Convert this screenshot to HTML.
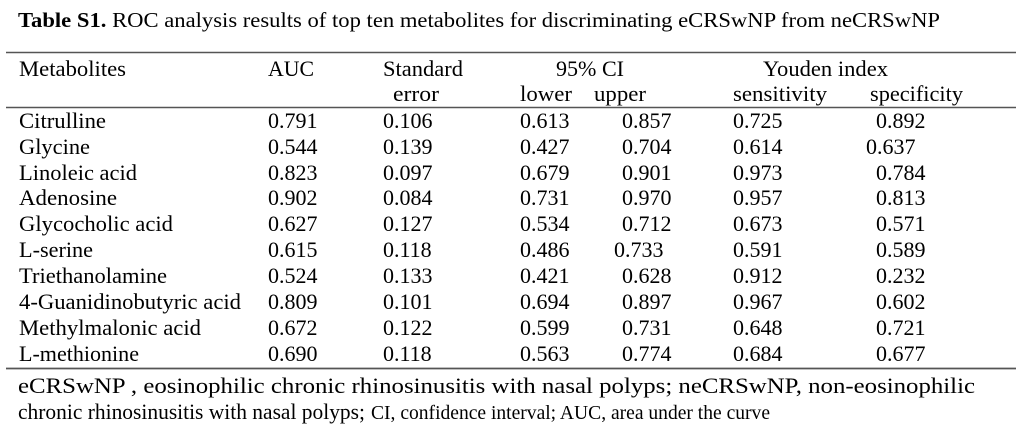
<!DOCTYPE html>
<html><head><meta charset="utf-8"><style>
html,body{margin:0;padding:0;background:#fff;}
svg{display:block;}
</style></head><body>
<svg width="1024" height="443" viewBox="0 0 1024 443" xmlns="http://www.w3.org/2000/svg" font-family="'Liberation Serif', 'Times New Roman', serif" fill="#000">
<text x="18" y="27" font-size="21" textLength="922" lengthAdjust="spacingAndGlyphs"><tspan font-weight="bold">Table S1.</tspan> ROC analysis results of top ten metabolites for discriminating eCRSwNP from neCRSwNP</text>
<line x1="6" y1="52.5" x2="1016" y2="52.5" stroke="#555" stroke-width="1.6"/>
<line x1="6" y1="107.5" x2="1016" y2="107.5" stroke="#555" stroke-width="1.6"/>
<line x1="6" y1="368.5" x2="1016" y2="368.5" stroke="#555" stroke-width="1.8"/>
<g font-size="22">
<text x="19" y="76" textLength="107" lengthAdjust="spacingAndGlyphs">Metabolites</text>
<text x="268" y="76" textLength="46" lengthAdjust="spacingAndGlyphs">AUC</text>
<text x="383" y="76" textLength="80" lengthAdjust="spacingAndGlyphs">Standard</text>
<text x="393" y="101" textLength="46" lengthAdjust="spacingAndGlyphs">error</text>
<text x="556" y="76" textLength="68" lengthAdjust="spacingAndGlyphs">95% CI</text>
<text x="520" y="101" textLength="52" lengthAdjust="spacingAndGlyphs">lower</text>
<text x="594" y="101" textLength="52" lengthAdjust="spacingAndGlyphs">upper</text>
<text x="763" y="76" textLength="125" lengthAdjust="spacingAndGlyphs">Youden index</text>
<text x="733" y="101" textLength="94" lengthAdjust="spacingAndGlyphs">sensitivity</text>
<text x="870" y="101" textLength="93" lengthAdjust="spacingAndGlyphs">specificity</text>
</g>
<g font-size="22">
<text x="19" y="128" textLength="87" lengthAdjust="spacingAndGlyphs">Citrulline</text>
<text x="19" y="154" textLength="71" lengthAdjust="spacingAndGlyphs">Glycine</text>
<text x="19" y="180" textLength="118" lengthAdjust="spacingAndGlyphs">Linoleic acid</text>
<text x="19" y="205" textLength="98" lengthAdjust="spacingAndGlyphs">Adenosine</text>
<text x="19" y="231" textLength="154" lengthAdjust="spacingAndGlyphs">Glycocholic acid</text>
<text x="19" y="257" textLength="74" lengthAdjust="spacingAndGlyphs">L-serine</text>
<text x="19" y="283" textLength="148" lengthAdjust="spacingAndGlyphs">Triethanolamine</text>
<text x="19" y="309" textLength="222" lengthAdjust="spacingAndGlyphs">4-Guanidinobutyric acid</text>
<text x="19" y="335" textLength="182" lengthAdjust="spacingAndGlyphs">Methylmalonic acid</text>
<text x="19" y="361" textLength="120" lengthAdjust="spacingAndGlyphs">L-methionine</text>
</g>
<g font-size="22">
<text x="268" y="128">0.791</text><text x="383" y="128">0.106</text><text x="520" y="128">0.613</text><text x="622" y="128">0.857</text><text x="733" y="128">0.725</text><text x="876" y="128">0.892</text>
<text x="268" y="154">0.544</text><text x="383" y="154">0.139</text><text x="520" y="154">0.427</text><text x="622" y="154">0.704</text><text x="733" y="154">0.614</text><text x="866" y="154">0.637</text>
<text x="268" y="180">0.823</text><text x="383" y="180">0.097</text><text x="520" y="180">0.679</text><text x="622" y="180">0.901</text><text x="733" y="180">0.973</text><text x="876" y="180">0.784</text>
<text x="268" y="205">0.902</text><text x="383" y="205">0.084</text><text x="520" y="205">0.731</text><text x="622" y="205">0.970</text><text x="733" y="205">0.957</text><text x="876" y="205">0.813</text>
<text x="268" y="231">0.627</text><text x="383" y="231">0.127</text><text x="520" y="231">0.534</text><text x="622" y="231">0.712</text><text x="733" y="231">0.673</text><text x="876" y="231">0.571</text>
<text x="268" y="257">0.615</text><text x="383" y="257">0.118</text><text x="520" y="257">0.486</text><text x="614" y="257">0.733</text><text x="733" y="257">0.591</text><text x="876" y="257">0.589</text>
<text x="268" y="283">0.524</text><text x="383" y="283">0.133</text><text x="520" y="283">0.421</text><text x="622" y="283">0.628</text><text x="733" y="283">0.912</text><text x="876" y="283">0.232</text>
<text x="268" y="309">0.809</text><text x="383" y="309">0.101</text><text x="520" y="309">0.694</text><text x="622" y="309">0.897</text><text x="733" y="309">0.967</text><text x="876" y="309">0.602</text>
<text x="268" y="335">0.672</text><text x="383" y="335">0.122</text><text x="520" y="335">0.599</text><text x="622" y="335">0.731</text><text x="733" y="335">0.648</text><text x="876" y="335">0.721</text>
<text x="268" y="361">0.690</text><text x="383" y="361">0.118</text><text x="520" y="361">0.563</text><text x="622" y="361">0.774</text><text x="733" y="361">0.684</text><text x="876" y="361">0.677</text>
</g>
<text x="18" y="393" font-size="22" textLength="957" lengthAdjust="spacingAndGlyphs">eCRSwNP , eosinophilic chronic rhinosinusitis with nasal polyps; neCRSwNP, non-eosinophilic</text>
<text x="18" y="419" font-size="22" textLength="347" lengthAdjust="spacingAndGlyphs">chronic rhinosinusitis with nasal polyps;</text>
<text x="371" y="419" font-size="20" textLength="399" lengthAdjust="spacingAndGlyphs">CI, confidence interval; AUC, area under the curve</text>
</svg>
</body></html>
